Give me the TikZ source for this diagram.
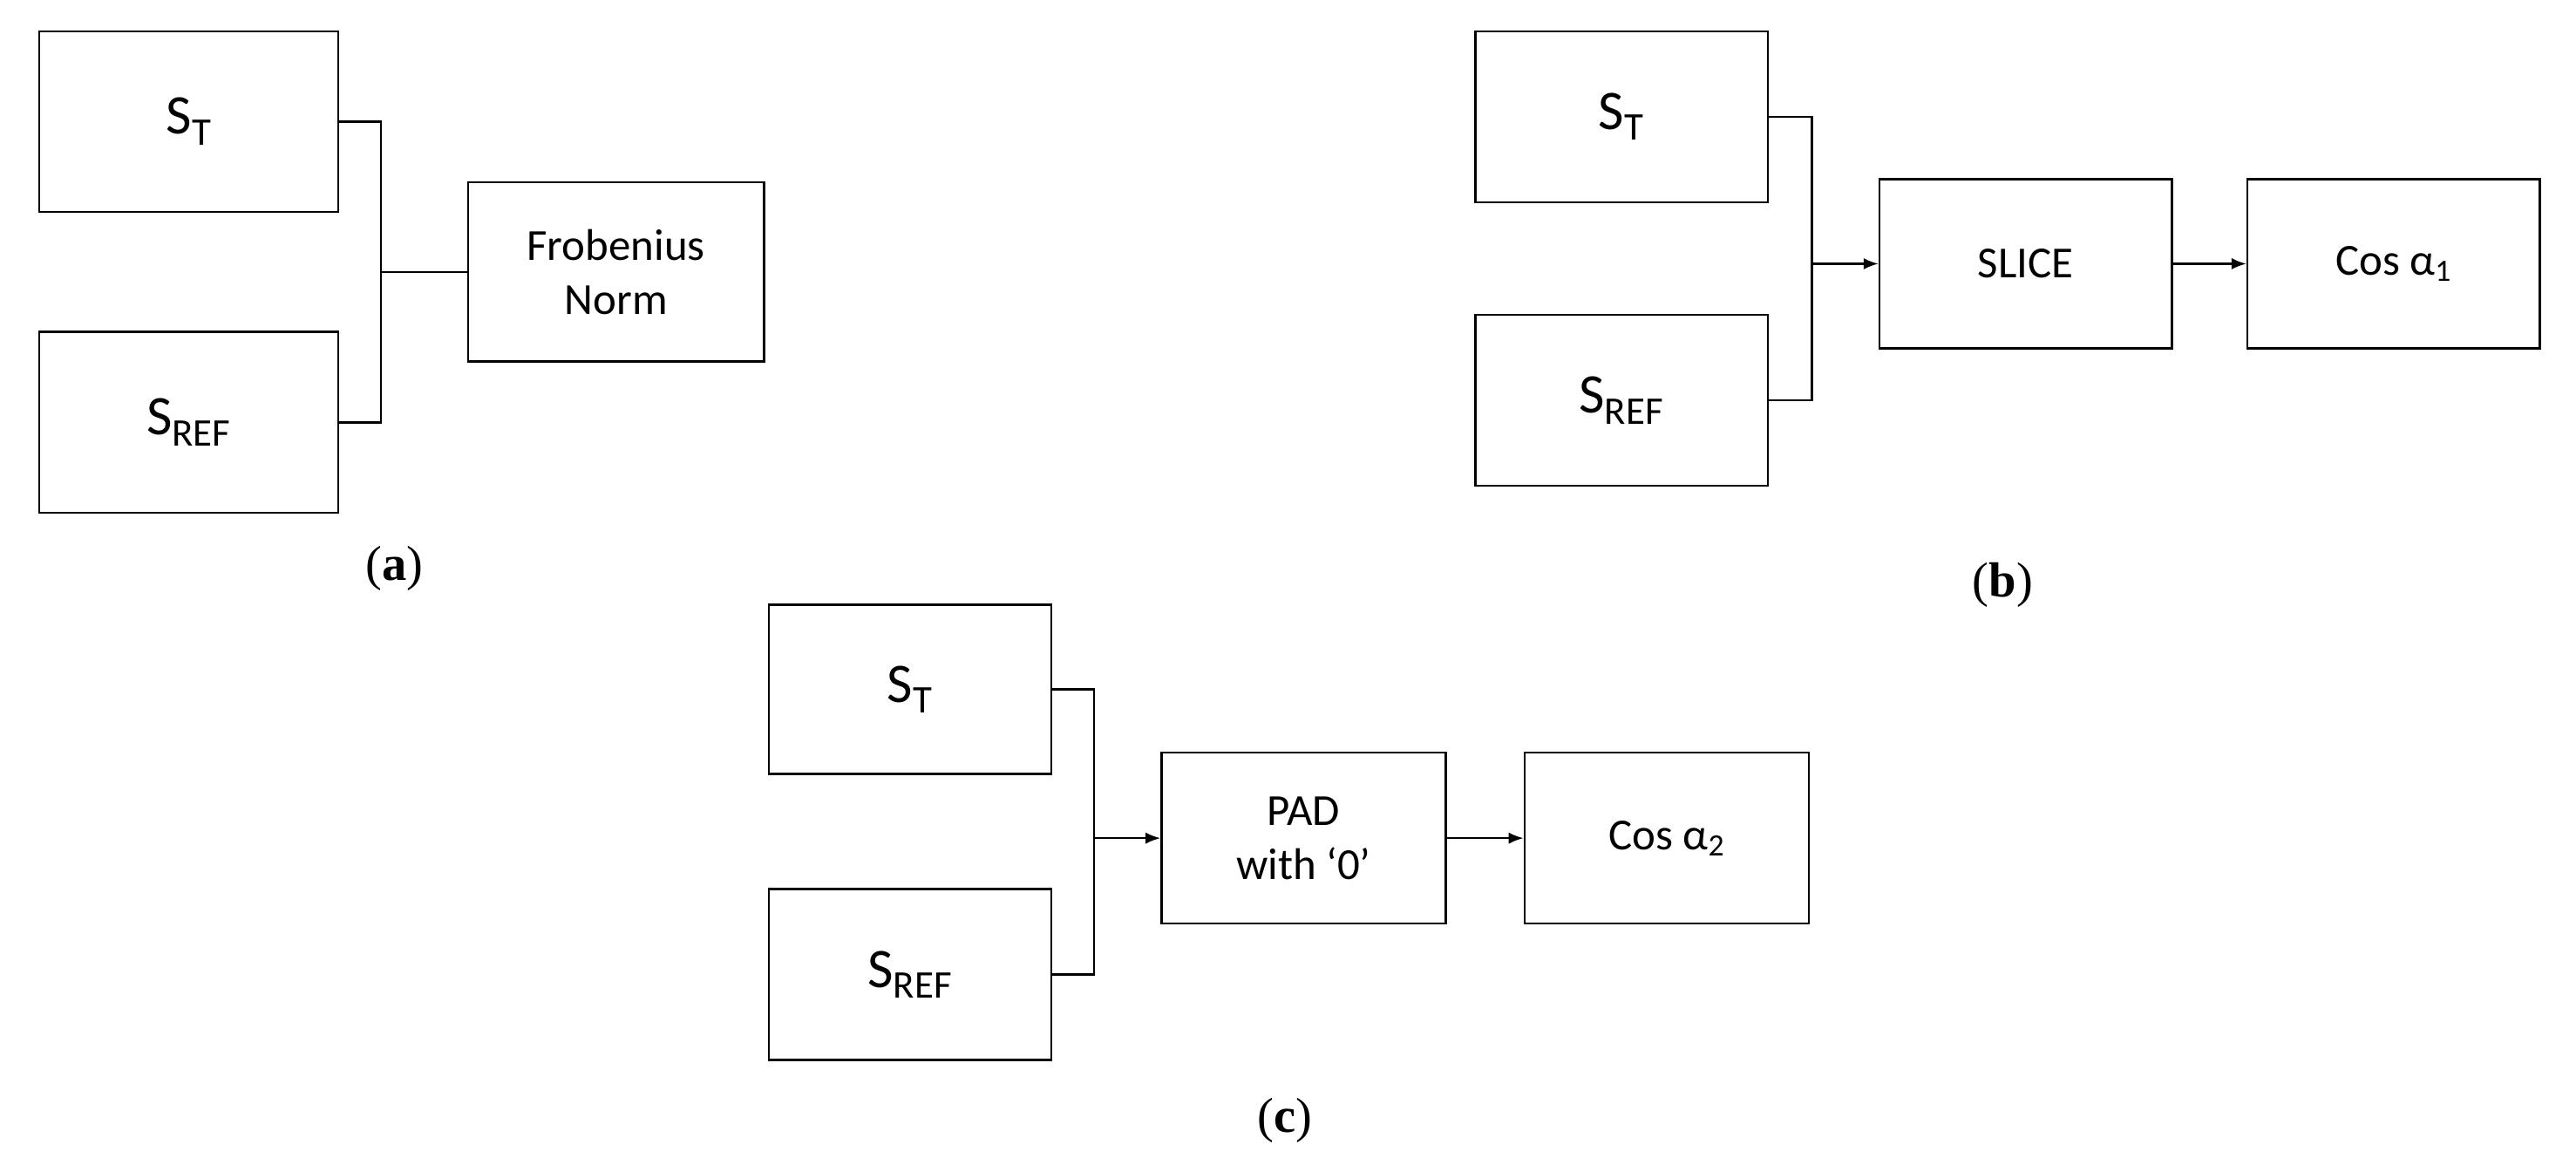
\documentclass[tikz,border=0pt]{standalone}
\usepackage{fontspec}
\setmainfont{Carlito}
\newfontfamily\lab{Liberation Serif}
\usetikzlibrary{arrows.meta}
\begin{document}
\begin{tikzpicture}[x=1pt,y=-1pt,
 box/.style={draw,line width=1.3pt,inner sep=0pt,align=center},
 big/.style={font=\fontsize{34}{36}\selectfont},
 small/.style={font=\fontsize{27}{33}\selectfont},
 ln/.style={line width=1.3pt},
 arr/.style={ln,-{Latex[length=9pt,width=7pt]}},
 sublab/.style={font=\lab\fontsize{30}{32}\selectfont}]
\useasboundingbox (0,0) rectangle (1568,713);
% (a)
\node[box,big,minimum width=182pt,minimum height=110pt] (aT) at (115,74) {S\textsubscript{T}};
\node[box,big,minimum width=182pt,minimum height=110pt] (aR) at (115,257) {S\textsubscript{REF}};
\node[box,small,minimum width=180pt,minimum height=109pt] (aF) at (375,165.5) {Frobenius\\Norm};
\coordinate (aJ) at (232,165.5);
\draw[ln] (aT.east) -| (aJ) |- (aR.east);
\draw[ln] (aJ) -- (aF.west);
\node[sublab] (la) at (240,346) {(\textbf{a})};
% (b)
\node[box,big,minimum width=178pt,minimum height=104pt] (bT) at (987,71) {S\textsubscript{T}};
\node[box,big,minimum width=178pt,minimum height=104pt] (bR) at (987,243.5) {S\textsubscript{REF}};
\node[box,small,minimum width=178pt,minimum height=103pt] (bS) at (1233,160.5) {SLICE};
\node[box,small,minimum width=178pt,minimum height=103pt] (bC) at (1457,160.5) {Cos α\textsubscript{1}};
\coordinate (bJ) at (1103,160.5);
\draw[ln] (bT.east) -| (bJ) |- (bR.east);
\draw[arr] (bJ) -- (bS.west);
\draw[arr] (bS) -- (bC);
\node[sublab] (lb) at (1219,356) {(\textbf{b})};
% (c)
\node[box,big,minimum width=172pt,minimum height=103pt] (cT) at (554,419.5) {S\textsubscript{T}};
\node[box,big,minimum width=172pt,minimum height=104pt] (cR) at (554,593) {S\textsubscript{REF}};
\node[box,small,minimum width=173pt,minimum height=104pt] (cP) at (793.5,510) {PAD\\with ‘0’};
\node[box,small,minimum width=173pt,minimum height=104pt] (cC) at (1014.5,510) {Cos α\textsubscript{2}};
\coordinate (cJ) at (666,510);
\draw[ln] (cT.east) -| (cJ) |- (cR.east);
\draw[arr] (cJ) -- (cP.west);
\draw[arr] (cP) -- (cC);
\node[sublab] (lc) at (782,682) {(\textbf{c})};
\end{tikzpicture}
\end{document}
